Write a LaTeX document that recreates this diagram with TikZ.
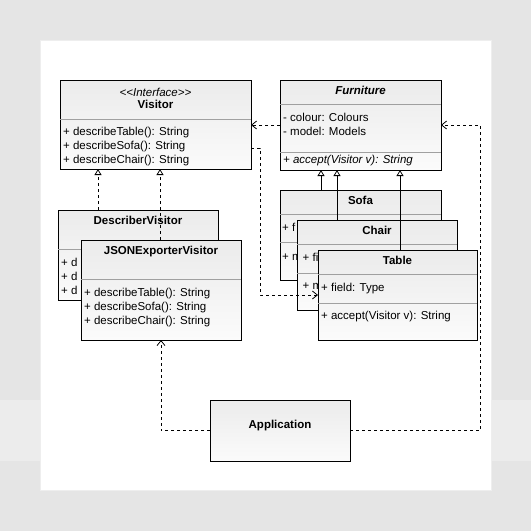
\documentclass[tikz,border=0pt]{standalone}
\usepackage{fontspec}
\setmainfont{Liberation Sans}
\usetikzlibrary{arrows.meta}
\definecolor{bgouter}{HTML}{E5E5E5}
\definecolor{bgband}{HTML}{ECECEC}
\definecolor{boxtop}{HTML}{EBEBEB}
\definecolor{boxbot}{HTML}{FBFBFB}
\definecolor{divgray}{HTML}{A0A0A0}
\definecolor{frameline}{HTML}{EEEEEE}
\begin{document}
\begin{tikzpicture}[x=1pt,y=-1pt,
  cls/.style={draw=black, line width=0.9pt, top color=boxtop, bottom color=boxbot, anchor=north west, inner sep=0pt, outer sep=0pt},
  divider/.style={draw=divgray, line width=0.7pt},
  txt/.style={anchor=west, inner sep=0pt, text height=8.5pt, text depth=2.5pt, font=\fontsize{11.5}{14}\selectfont},
  ttl/.style={anchor=center, inner sep=0pt, text height=8.5pt, text depth=2.5pt, font=\fontsize{11.5}{14}\selectfont\bfseries},
  dep/.style={line width=0.8pt, dash pattern=on 3pt off 3pt, -{Straight Barb[length=5pt,width=8pt,line width=0.8pt]}},
  real/.style={line width=0.8pt, dash pattern=on 3pt off 3pt, -{Triangle[open,length=6pt,width=7pt,fill=white,line width=0.8pt]}},
  inh/.style={line width=0.8pt, -{Triangle[open,length=6pt,width=7pt,fill=white,line width=0.8pt]}}
]
\useasboundingbox (0,0) rectangle (531,531);
% background
\fill[bgouter] (0,0) rectangle (531,531);
\fill[bgband] (0,400) rectangle (531,461);
\filldraw[fill=white, draw=frameline, line width=0.8pt] (40,40) rectangle (491,490);

% Visitor
\node[cls, minimum width=191pt, minimum height=89pt] (visitor) at (60,80) {};
\draw[divider] (visitor.north west) ++(0,39) -- ++(191,0);
\node[ttl, font=\fontsize{11.5}{14}\selectfont\itshape] (visitorst) at (155.5,93) {<\kern0pt<Interface>\kern0pt>};
\node[ttl] (visitorname) at (155.5,105) {Visitor};
\node[txt] (vm1) at (63,132) {+ describeTable(): String};
\node[txt] (vm2) at (63,146) {+ describeSofa(): String};
\node[txt] (vm3) at (63,160) {+ describeChair(): String};

% Furniture
\node[cls, minimum width=161pt, minimum height=90pt] (furniture) at (280,80) {};
\draw[divider] (furniture.north west) ++(0,24) -- ++(161,0);
\draw[divider] (furniture.north west) ++(0,72) -- ++(161,0);
\node[ttl, font=\fontsize{11.5}{14}\selectfont\bfseries\itshape] (furnname) at (360.5,91) {Furniture};
\node[txt] (fa1) at (283,118) {- colour: Colours};
\node[txt] (fa2) at (283,132) {- model: Models};
\node[txt, font=\fontsize{11.5}{14}\selectfont\itshape] (fm1) at (283,160) {+ accept(Visitor v): String};

% Sofa
\node[cls, minimum width=161pt, minimum height=90pt] (sofa) at (280,190) {};
\draw[divider] (sofa.north west) ++(0,24) -- ++(161,0);
\draw[divider] (sofa.north west) ++(0,52) -- ++(161,0);
\node[ttl] (sofaname) at (360.5,201) {Sofa};
\node[txt] (sa1) at (282,228) {+ f};
\node[txt] (sm1) at (282,257) {+ m};

% Chair
\node[cls, minimum width=160pt, minimum height=90pt] (chair) at (297,220) {};
\draw[divider] (chair.north west) ++(0,24) -- ++(160,0);
\draw[divider] (chair.north west) ++(0,53) -- ++(160,0);
\node[ttl] (chairname) at (377,231) {Chair};
\node[txt] (ca1) at (302.5,258) {+ fi};
\node[txt] (cm1) at (302.5,286) {+ m};

% Table
\node[cls, minimum width=159pt, minimum height=90pt] (table) at (318,250) {};
\draw[divider] (table.north west) ++(0,24) -- ++(159,0);
\draw[divider] (table.north west) ++(0,53) -- ++(159,0);
\node[ttl] (tablename) at (397.5,261) {Table};
\node[txt] (ta1) at (321,288) {+ field: Type};
\node[txt] (tm1) at (321,316) {+ accept(Visitor v): String};

% DescriberVisitor
\node[cls, minimum width=160pt, minimum height=90pt] (describer) at (58,210) {};
\draw[divider] (describer.north west) ++(0,39) -- ++(160,0);
\node[ttl] (descname) at (138,221) {DescriberVisitor};
\node[txt] (dm1) at (61,263) {+ d};
\node[txt] (dm2) at (61,277) {+ d};
\node[txt] (dm3) at (61,291) {+ d};

% JSONExporterVisitor
\node[cls, minimum width=160pt, minimum height=100pt] (json) at (81,240) {};
\draw[divider] (json.north west) ++(0,39) -- ++(160,0);
\node[ttl] (jsonname) at (161,251) {JSONExporterVisitor};
\node[txt] (jm1) at (84,293) {+ describeTable(): String};
\node[txt] (jm2) at (84,307) {+ describeSofa(): String};
\node[txt] (jm3) at (84,321) {+ describeChair(): String};

% Application
\node[cls, minimum width=140pt, minimum height=61pt] (app) at (210,400) {};
\node[ttl] (appname) at (280,425) {Application};

% inheritance
\draw[inh] ([xshift=41pt]sofa.north west) coordinate (s1) -- (s1 |- furniture.south);
\draw[inh] ([xshift=40pt]chair.north west) coordinate (c1) -- (c1 |- furniture.south);
\draw[inh] ([xshift=82pt]table.north west) coordinate (t1) -- (t1 |- furniture.south);

% realization
\draw[real] ([xshift=40pt]describer.north west) coordinate (d1) -- (d1 |- visitor.south);
\draw[real] ([xshift=79pt]json.north west) coordinate (j1) -- (j1 |- visitor.south);

% dependencies
\draw[dep] (furniture.west) -- (furniture.west -| visitor.east);
\draw[dep] ([yshift=-23.5pt]visitor.east) coordinate (v1) -- ++(9,0) |- (table.west);
\draw[dep] (app.west) -| (json.south);
\draw[dep] (app.east) -- ++(130,0) |- (furniture.east);
\end{tikzpicture}
\end{document}
